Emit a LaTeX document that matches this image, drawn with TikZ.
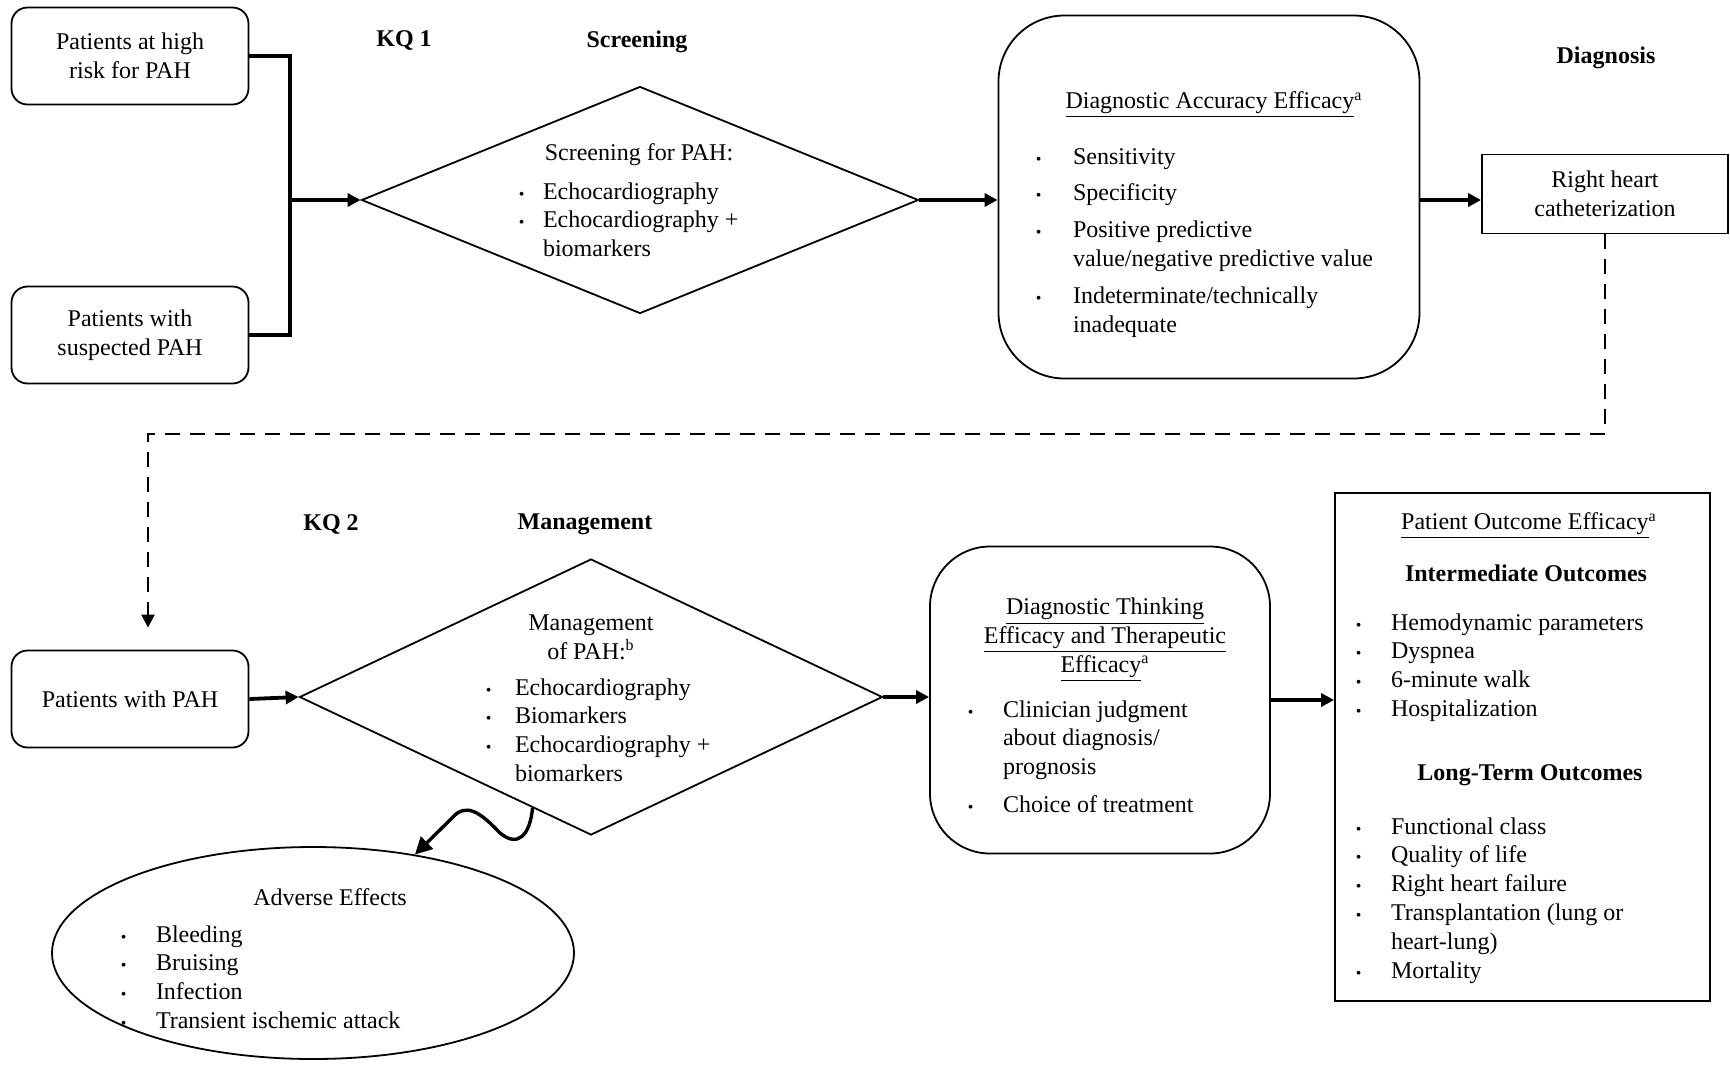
\documentclass[tikz,border=0pt]{standalone}
\usepackage{fontspec}
\setmainfont{Liberation Serif}
\usepackage{tikz}
\usetikzlibrary{arrows.meta, calc, shapes.geometric}

\newcommand{\bu}{{\footnotesize\textbullet}}
\newcommand{\blist}[2]{\begin{tabular}[t]{@{}c@{\hspace{#1}}l@{}}#2\end{tabular}}

\begin{document}
\begin{tikzpicture}[x=0.5pt,y=-0.5pt,font=\fontsize{12}{14.4}\selectfont,
  >={Triangle[length=6.5pt,width=6.5pt]}]
  \tikzstyle{every node}=[inner sep=0pt]
  \tikzstyle{patbox}=[draw,line width=0.9pt,rounded corners=8pt,minimum width=118.5pt,minimum height=48.5pt,align=center]
  \tikzstyle{bigbox}=[draw,line width=0.9pt,align=center]
  \tikzstyle{decide}=[draw,diamond,line width=0.9pt]
  \tikzstyle{heading}=[font=\fontsize{12}{14.4}\selectfont\bfseries]
  \tikzstyle{bullets}=[anchor=base west]
  \tikzstyle{link}=[line width=1.9pt]
  \tikzstyle{flow}=[->,line width=1.9pt]
  \tikzstyle{dashflow}=[->,line width=1.2pt,dash pattern=on 7.5pt off 5pt]

  \useasboundingbox (0,0) rectangle (1730,1083);

  % KQ 1: screening
  \node[patbox] (hr)  at (130,56)  {Patients at high\\risk for PAH};
  \node[patbox] (sus) at (130,335) {Patients with\\suspected PAH};
  \node[decide,minimum width=278.5pt,minimum height=113.5pt] (scr) at (640,200) {};
  \node[bigbox,rounded corners=33pt,minimum width=210.5pt,minimum height=181.5pt] (dae) at (1209,197) {};
  \node[bigbox,minimum width=123pt,minimum height=39.5pt] (rhc) at (1605,194) {Right heart\\catheterization};

  \node[heading] (kq1)     at (404,40)  {KQ 1};
  \node[heading] (scrlab)  at (637,42)  {Screening};
  \node[heading] (diaglab) at (1606,58) {Diagnosis};

  \node (scrhead) at (639,155) {Screening for PAH:};
  \node[bullets] (scrlist) at (518.5,199) {\blist{9.25pt}{\bu & Echocardiography\\ \bu & Echocardiography +\\ & biomarkers}};

  \node (daehead) at (1214,105) {\underline{Diagnostic Accuracy Efficacy}\textsuperscript{a}};
  \node[bullets] (daelist) at (1035.5,164) {\blist{15.75pt}{\bu & Sensitivity\\[4pt] \bu & Specificity\\[4pt] \bu & Positive predictive\\ & value/negative predictive value\\[4pt] \bu & Indeterminate/technically\\ & inadequate}};

  % KQ 2: management
  \node[patbox] (pwp) at (130,699) {Patients with PAH};
  \node[decide,minimum width=291.5pt,minimum height=138pt] (mgt) at (591,697) {};
  \node[bigbox,rounded corners=30pt,minimum width=170pt,minimum height=153.5pt] (dte) at (1100,700) {};
  \node[bigbox,minimum width=187.5pt,minimum height=254pt] (poe) at (1522.5,747) {};
  \node[draw,ellipse,line width=0.9pt,minimum width=261pt,minimum height=106pt] (ae) at (313,953) {};

  \node[heading] (kq2)    at (331,524) {KQ 2};
  \node[heading] (mgtlab) at (585,524) {Management};

  \node[align=center] (mgthead) at (591,637) {Management\\of PAH:\textsuperscript{b}};
  \node[bullets] (mgtlist) at (485.5,695) {\blist{11.75pt}{\bu & Echocardiography\\ \bu & Biomarkers\\ \bu & Echocardiography +\\ & biomarkers}};

  \node[align=center] (dtehead) at (1105,640) {\underline{Diagnostic Thinking}\\\underline{Efficacy and Therapeutic}\\\underline{Efficacy}\textsuperscript{a}};
  \node[bullets] (dtelist) at (967.5,717) {\blist{14.75pt}{\bu & Clinician judgment\\ & about diagnosis/\\ & prognosis\\[4.5pt] \bu & Choice of treatment}};

  \node (poehead) at (1529,526) {\underline{Patient Outcome Efficacy}\textsuperscript{a}};
  \node[heading] (midhead) at (1526,573) {Intermediate Outcomes};
  \node[bullets] (midlist) at (1355.5,630) {\blist{14.75pt}{\bu & Hemodynamic parameters\\ \bu & Dyspnea\\ \bu & 6-minute walk\\ \bu & Hospitalization}};
  \node[heading] (longhead) at (1530,775) {Long-Term Outcomes};
  \node[bullets] (longlist) at (1355.5,834) {\blist{14.75pt}{\bu & Functional class\\ \bu & Quality of life\\ \bu & Right heart failure\\ \bu & Transplantation (lung or\\ & heart-lung)\\ \bu & Mortality}};

  \node (aehead) at (330,897) {Adverse Effects};
  \node[bullets] (aelist) at (120.5,942) {\blist{14.75pt}{\bu & Bleeding\\ \bu & Bruising\\ \bu & Infection\\ \bu & Transient ischemic attack}};

  % connectors
  \coordinate (jn) at (290,200);
  \coordinate (dl) at (148,434);
  \draw[link] (hr.east) -| (jn);
  \draw[link] (sus.east) -| (jn);
  \draw[flow] (jn) -- (scr.west);
  \draw[flow] (scr.east) -- (scr.east -| dae.west);
  \draw[flow] (dae.east |- scr.east) -- (rhc.west |- scr.east);
  \draw[dashflow,shorten >=11pt] (rhc.south) |- (dl) -- (pwp.north -| dl);
  \draw[flow] (pwp.east) -- (mgt.west);
  \draw[flow] (mgt.east) -- (mgt.east -| dte.west);
  \draw[flow] (dte.east) -- (dte.east -| poe.west);
  \draw[->,line width=1.7pt,>={Triangle[length=8.5pt,width=8.5pt]}] ($(mgt.west)!0.8!(mgt.south)$)
    .. controls (530,835) and (518,848) .. (500,833)
    .. controls (480,812) and (466,802) .. (452,818) -- (ae.44);
\end{tikzpicture}
\end{document}
